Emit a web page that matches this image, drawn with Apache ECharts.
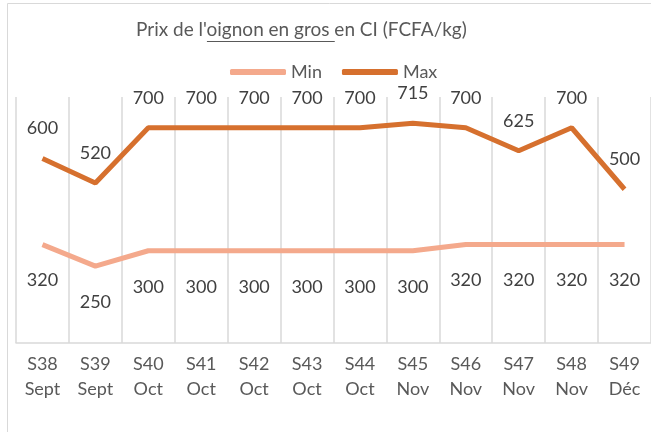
<!DOCTYPE html>
<html>
<head>
<meta charset="utf-8">
<script src="https://cdn.jsdelivr.net/npm/echarts@6/dist/echarts.min.js"></script>
<style>
  html, body { margin: 0; padding: 0; background: #fff; }
  #chart { width: 651px; height: 432px; }
</style>
</head>
<body>
<div id="chart"></div>
<script>
// données du graphique
const semaines = ['S38\nSept', 'S39\nSept', 'S40\nOct', 'S41\nOct', 'S42\nOct', 'S43\nOct',
                  'S44\nOct', 'S45\nNov', 'S46\nNov', 'S47\nNov', 'S48\nNov', 'S49\nDéc'];
const prixMin = [320, 250, 300, 300, 300, 300, 300, 300, 320, 320, 320, 320];
const prixMax = [600, 520, 700, 700, 700, 700, 700, 715, 700, 625, 700, 500];

const police = 'Lato';
const taille = 18;
const tailleTitre = 19;

// position du titre et du soulignement
const ctx = document.createElement('canvas').getContext('2d');
ctx.font = tailleTitre + 'px ' + police;
const avant = "Prix de l'";
const souligne = 'oignon en gros ';
const apres = 'en CI (FCFA/kg)';
const largeur = ctx.measureText(avant + souligne + apres).width;
const xTitre = Math.round(301 - largeur / 2);
const xDebut = xTitre + ctx.measureText(avant).width;
const xFin = xDebut + ctx.measureText(souligne).width;

const chart = echarts.init(document.getElementById('chart'));

chart.setOption({
  animation: false,
  textStyle: { fontFamily: police },
  title: {
    text: avant + souligne + apres,
    left: xTitre,
    top: 20,
    padding: 0,
    textStyle: { fontFamily: police, fontSize: tailleTitre, fontWeight: 'normal', color: '#595959' }
  },
  graphic: [
    {
      type: 'line',
      shape: { x1: xDebut, y1: 41.5, x2: xFin, y2: 41.5 },
      style: { stroke: '#595959', lineWidth: 1 }
    },
    {
      type: 'rect',
      shape: { x: 7.5, y: 3.5, width: 660, height: 440 },
      style: { fill: 'none', stroke: '#d9d9d9', lineWidth: 1 },
      silent: true
    }
  ],
  legend: {
    left: 230,
    top: 63,
    padding: 0,
    icon: 'roundRect',
    itemWidth: 56,
    itemHeight: 6,
    itemGap: 20,
    textStyle: { fontSize: taille, color: '#595959' },
    data: ['Min', 'Max']
  },
  grid: { left: 16, right: 0, top: 97, bottom: 89 },
  xAxis: {
    type: 'category',
    data: semaines,
    boundaryGap: true,
    axisLine: { lineStyle: { color: '#d9d9d9', width: 1.5 } },
    axisTick: { show: false },
    splitLine: { show: true, lineStyle: { color: '#d9d9d9', width: 1.5 } },
    axisLabel: {
      color: '#595959',
      fontSize: taille,
      lineHeight: 25,
      margin: 9,
      interval: 0
    }
  },
  yAxis: {
    type: 'value',
    min: 0,
    max: 800,
    show: false,
    splitLine: { show: false }
  },
  series: [
    {
      name: 'Min',
      type: 'line',
      data: prixMin,
      symbol: 'circle',
      symbolSize: 0.1,
      color: '#F4A98C',
      lineStyle: { width: 5, color: '#F4A98C' },
      label: {
        show: true,
        position: 'bottom',
        distance: 27,
        fontSize: taille,
        color: '#404040'
      }
    },
    {
      name: 'Max',
      type: 'line',
      data: prixMax,
      symbol: 'circle',
      symbolSize: 0.1,
      color: '#D6702E',
      lineStyle: { width: 5, color: '#D6702E' },
      label: {
        show: true,
        position: 'top',
        distance: 21,
        fontSize: taille,
        color: '#404040'
      }
    }
  ]
});
</script>
</body>
</html>
